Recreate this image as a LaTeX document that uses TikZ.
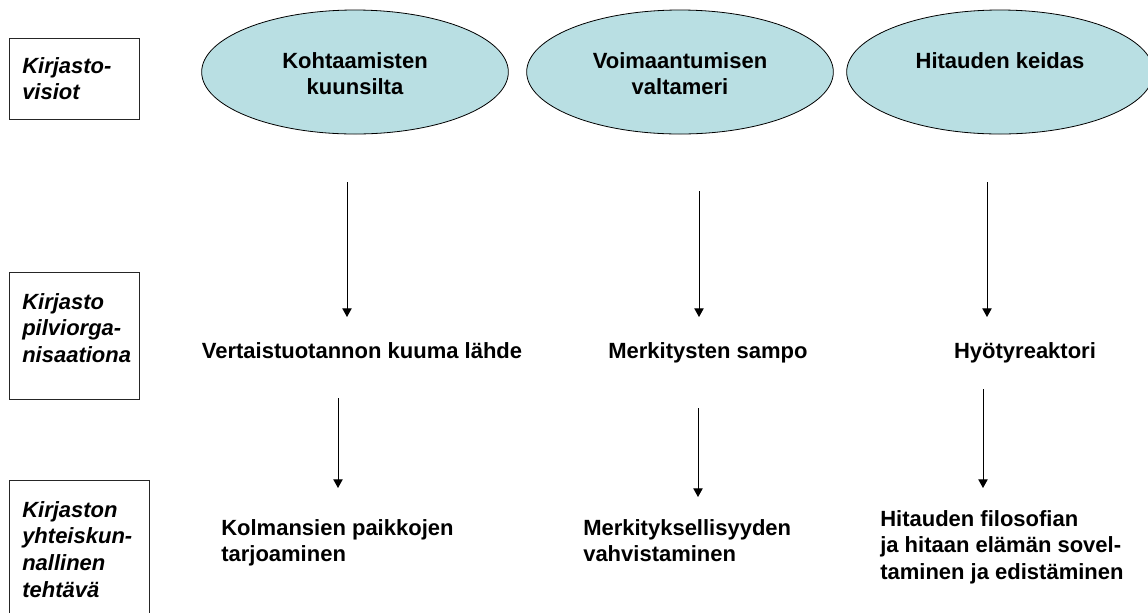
\documentclass[tikz,border=0pt]{standalone}
\usepackage{fontspec}
\setmainfont{Liberation Sans}
\usetikzlibrary{shapes.geometric, arrows.meta}

\tikzset{
	visio/.style = {ellipse, draw=black, line width=0.6pt, fill=visioblue, minimum width=230pt, minimum height=93pt, inner sep=0pt},
	tasoteksti/.style = {font=\fontsize{16.5}{20}\selectfont\bfseries\itshape, align=left, anchor=north west, inner sep=0pt},
	teksti/.style = {font=\fontsize{16.5}{20}\selectfont\bfseries, inner sep=0pt},
	taso/.style = {draw=black!85, line width=0.6pt},
	nuoli/.style = {line width=0.75pt, -{Triangle[width=7pt, length=6.5pt]}}
}

\begin{document}
\begin{tikzpicture}[x=0.75pt, y=-0.75pt]
	\definecolor{visioblue}{HTML}{B9DFE3}
	\useasboundingbox (0,0) rectangle (1148,612);
	% tasot vasemmalla
	\draw[taso] (9,38) rectangle (139,119);
	\draw[taso] (9,272) rectangle (139,399);
	\draw[taso] (9,480) rectangle (149,630);
	\node[tasoteksti] (t1) at (22,57) {Kirjasto-\\visiot};
	\node[tasoteksti] (t2) at (22,293) {Kirjasto\\pilviorga-\\nisaationa};
	\node[tasoteksti] (t3) at (22,501) {Kirjaston\\yhteiskun-\\nallinen\\tehtävä};
	% visiot
	\node[visio] (v1) at (355,72) {};
	\node[visio] (v2) at (680,72) {};
	\node[visio] (v3) at (1000,72) {};
	\node[teksti, anchor=north, align=center] (v1t) at (355,52) {Kohtaamisten\\kuunsilta};
	\node[teksti, anchor=north, align=center] (v2t) at (680,52) {Voimaantumisen\\valtameri};
	\node[teksti, anchor=north, align=center] (v3t) at (1000,52) {Hitauden keidas};
	% pilviorganisaatio
	\node[teksti, anchor=base] (p1) at (362,358) {Vertaistuotannon kuuma lähde};
	\node[teksti, anchor=base] (p2) at (708,358) {Merkitysten sampo};
	\node[teksti, anchor=base] (p3) at (1025,358) {Hyötyreaktori};
	% tehtävät
	\node[teksti, anchor=north west, align=left] (h1) at (221,519) {Kolmansien paikkojen\\tarjoaminen};
	\node[teksti, anchor=north west, align=left] (h2) at (583,519) {Merkityksellisyyden\\vahvistaminen};
	\node[teksti, anchor=north west, align=left] (h3) at (880,510) {Hitauden filosofian\\ja hitaan elämän sovel-\\taminen ja edistäminen};
	% nuolet
	\coordinate (a1) at (347,182);
	\coordinate (b1) at (347,317);
	\coordinate (a2) at (699,191);
	\coordinate (b2) at (699,317);
	\coordinate (a3) at (987,182);
	\coordinate (b3) at (987,317);
	\coordinate (c1) at (338,398);
	\coordinate (d1) at (338,488);
	\coordinate (c2) at (698,408);
	\coordinate (d2) at (698,497);
	\coordinate (c3) at (983,389);
	\coordinate (d3) at (983,488);
	\draw[nuoli] (a1) -- (b1);
	\draw[nuoli] (a2) -- (b2);
	\draw[nuoli] (a3) -- (b3);
	\draw[nuoli] (c1) -- (d1);
	\draw[nuoli] (c2) -- (d2);
	\draw[nuoli] (c3) -- (d3);
\end{tikzpicture}
\end{document}
